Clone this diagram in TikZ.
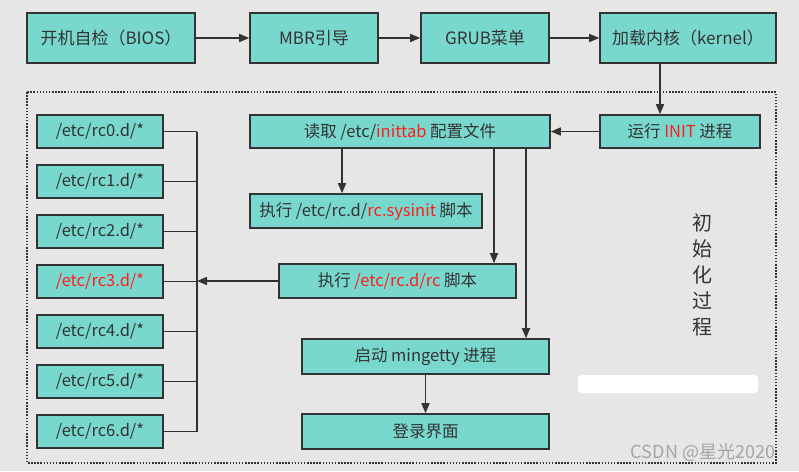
\documentclass[tikz,border=0pt]{standalone}
\usepackage{fontspec}
\setmainfont{Noto Sans CJK SC}
\usetikzlibrary{arrows.meta,positioning}
\definecolor{bggray}{RGB}{230,230,230}
\definecolor{boxfill}{RGB}{120,216,205}
\definecolor{linegray}{RGB}{51,51,51}
\definecolor{hlred}{RGB}{255,30,30}
\definecolor{marktext}{RGB}{165,165,165}

\begin{document}
\begin{tikzpicture}[x=1pt, y=-1pt,
    every node/.style={text=linegray, font=\fontsize{16.5}{19}\selectfont},
    stage/.style={draw=linegray, line width=1.6pt, fill=boxfill, minimum height=50pt, inner sep=0pt, font=\fontsize{17}{20}\selectfont},
    proc/.style={stage, minimum height=33pt, font=\fontsize{16.5}{19}\selectfont},
    arr/.style={draw=linegray, line width=1.6pt, -{Triangle[length=10pt, width=8pt]}},
    link/.style={draw=linegray, line width=1.6pt},
    ]
    \fill[bggray] (0,0) rectangle (799,471);
    \useasboundingbox (0,0) rectangle (799,471);

    \draw[linegray, line width=1.5pt, dash pattern=on 1.5pt off 1.6pt] (27,92) rectangle (776,463);

    \node[stage, minimum width=168pt] (bios) at (111,38) {开机自检（BIOS）};
    \node[stage, minimum width=128pt] (mbr) at (314,38) {MBR引导};
    \node[stage, minimum width=128pt] (grub) at (485,38) {GRUB菜单};
    \node[stage, minimum width=176pt] (kernel) at (688,38) {加载内核（kernel）};

    \node[proc, minimum width=160pt] (init) at (680,131.5) {运行 \textcolor{hlred}{INIT} 进程};
    \node[proc, minimum width=300pt] (inittab) at (400,131.5) {读取 /etc/\textcolor{hlred}{inittab} 配置文件};
    \node[proc, minimum width=232pt, minimum height=34pt] (sysinit) at (366,211) {执行 /etc/rc.d/\textcolor{hlred}{rc.sysinit} 脚本};
    \node[proc, minimum width=237pt, minimum height=34pt] (rcscript) at (397.5,281) {执行 \textcolor{hlred}{/etc/rc.d/rc} 脚本};
    \node[proc, minimum width=247pt, minimum height=35pt] (mingetty) at (425.5,356.5) {启动 mingetty 进程};
    \node[proc, minimum width=247pt, minimum height=35pt] (login) at (425.5,431.5) {登录界面};

    \foreach \i/\c in {0/linegray,1/linegray,2/linegray,3/hlred,4/linegray,5/linegray,6/linegray}
      \node[proc, minimum width=126pt, text=\c] (rc\i) at (100,{131.5+50*\i}) {/etc/rc\i.d/*};

    \coordinate (bustop) at (197,131.5);
    \coordinate (busbot) at (197,431.5);
    \draw[link] (bustop) -- (busbot);
    \foreach \i in {0,...,6}
      \draw[link] (rc\i.east) -- (rc\i.east -| bustop);

    \draw[arr] (bios) -- (mbr);
    \draw[arr] (mbr) -- (grub);
    \draw[arr] (grub) -- (kernel);
    \draw[arr] ([xshift=-28pt]kernel.south) -- ([xshift=-28pt]kernel.south |- init.north);
    \draw[arr] (init) -- (inittab);
    \draw[arr] ([xshift=-58pt]inittab.south) -- ([xshift=-58pt]inittab.south |- sysinit.north);
    \draw[arr] ([xshift=94pt]inittab.south) -- ([xshift=94pt]inittab.south |- rcscript.north);
    \draw[arr] ([xshift=126pt]inittab.south) -- ([xshift=126pt]inittab.south |- mingetty.north);
    \draw[arr] (mingetty) -- (login);
    \draw[arr] (rcscript.west) -- (rcscript.west -| bustop);

    \node[font=\fontsize{20}{26}\selectfont, align=center] (stagelabel) at (702,275) {初\\始\\化\\过\\程};

    \fill[white, rounded corners=4pt] (578,375) rectangle (758,393);
    \node[text=marktext, font=\fontsize{18}{20}\selectfont] (mark) at (703,452) {CSDN @星光2020};
\end{tikzpicture}
\end{document}
